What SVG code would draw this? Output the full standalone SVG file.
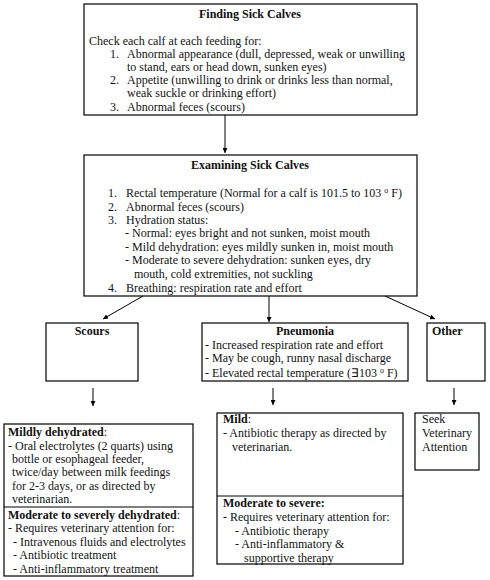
<svg xmlns="http://www.w3.org/2000/svg" width="490" height="580" viewBox="0 0 490 580">
<defs>
<marker id="ah" viewBox="0 0 10 10" refX="10" refY="5" markerWidth="5" markerHeight="5" orient="auto" markerUnits="userSpaceOnUse">
<path d="M0,0 L10,5 L0,10 z" fill="#000"/>
</marker>
<style>
text{font-family:"Liberation Serif","Times New Roman",serif;font-size:12px;fill:#111}
.b{font-weight:bold}
.box{fill:#fff;stroke:#000;stroke-width:1.2}
.ln{stroke:#000;stroke-width:1;fill:none}
</style>
</defs>
<rect width="490" height="580" fill="#fff"/>
<g id="finding">
<rect class="box" x="84" y="4" width="333" height="111"/>
<text class="b" x="250" y="18" text-anchor="middle">Finding Sick Calves</text>
<text x="89" y="45">Check each calf at each feeding for:</text>
<text x="110" y="58">1.</text><text x="127" y="58">Abnormal appearance (dull, depressed, weak or unwilling</text>
<text x="127" y="71">to stand, ears or head down, sunken eyes)</text>
<text x="110" y="84">2.</text><text x="127" y="84">Appetite (unwilling to drink or drinks less than normal,</text>
<text x="127" y="97">weak suckle or drinking effort)</text>
<text x="110" y="111">3.</text><text x="127" y="111">Abnormal feces (scours)</text>
</g>
<g id="examining">
<rect class="box" x="84" y="155" width="333" height="141"/>
<text class="b" x="250" y="169" text-anchor="middle">Examining Sick Calves</text>
<text x="108" y="197">1.</text><text x="126" y="197">Rectal temperature (Normal for a calf is 101.5 to 103 <tspan font-size="8" dy="-4">o</tspan><tspan dy="4"> F)</tspan></text>
<text x="108" y="211">2.</text><text x="126" y="211">Abnormal feces (scours)</text>
<text x="108" y="224">3.</text><text x="126" y="224">Hydration status:</text>
<text x="125" y="237">- Normal: eyes bright and not sunken, moist mouth</text>
<text x="125" y="251">- Mild dehydration: eyes mildly sunken in, moist mouth</text>
<text x="125" y="264">- Moderate to severe dehydration: sunken eyes, dry</text>
<text x="134" y="278">mouth, cold extremities, not suckling</text>
<text x="108" y="292">4.</text><text x="126" y="292">Breathing: respiration rate and effort</text>
</g>
<g id="scours">
<rect class="box" x="46" y="323" width="92" height="58"/>
<text class="b" x="92" y="335" text-anchor="middle">Scours</text>
</g>
<g id="pneumonia">
<rect class="box" x="202" y="323" width="206" height="58"/>
<text class="b" x="305" y="335" text-anchor="middle">Pneumonia</text>
<text x="205" y="349">- Increased respiration rate and effort</text>
<text x="205" y="362">- May be cough, runny nasal discharge</text>
<text x="205" y="377">- Elevated rectal temperature (∃103 <tspan font-size="8" dy="-4">o</tspan><tspan dy="4"> F)</tspan></text>
</g>
<g id="other">
<rect class="box" x="427" y="323" width="58" height="58"/>
<text class="b" x="432" y="335">Other</text>
</g>
<g id="scours-treat">
<rect class="box" x="4" y="424" width="189" height="152"/>
<line class="ln" x1="4" y1="507" x2="193" y2="507"/>
<text x="8" y="436"><tspan class="b">Mildly dehydrated</tspan>:</text>
<text x="8" y="450">- Oral electrolytes (2 quarts) using</text>
<text x="12" y="463">bottle or esophageal feeder,</text>
<text x="12" y="476">twice/day between milk feedings</text>
<text x="12" y="490">for 2-3 days, or as directed by</text>
<text x="12" y="503">veterinarian.</text>
<text x="8" y="519"><tspan class="b">Moderate to severely dehydrated</tspan>:</text>
<text x="8" y="532">- Requires veterinary attention for:</text>
<text x="13" y="546">- Intravenous fluids and electrolytes</text>
<text x="13" y="559">- Antibiotic treatment</text>
<text x="13" y="573">- Anti-inflammatory treatment</text>
</g>
<g id="pneumonia-treat">
<rect class="box" x="217" y="413" width="186" height="151"/>
<line class="ln" x1="217" y1="496" x2="403" y2="496"/>
<text x="223" y="423"><tspan class="b">Mild</tspan>:</text>
<text x="223" y="437">- Antibiotic therapy as directed by</text>
<text x="232" y="451">veterinarian.</text>
<text class="b" x="223" y="507">Moderate to severe:</text>
<text x="223" y="521">- Requires veterinary attention for:</text>
<text x="235" y="535">- Antibiotic therapy</text>
<text x="235" y="548">- Anti-inflammatory &amp;</text>
<text x="244" y="562">supportive therapy</text>
</g>
<g id="other-treat">
<rect class="box" x="415" y="413" width="64" height="57"/>
<text x="422" y="423">Seek</text>
<text x="422" y="437">Veterinary</text>
<text x="422" y="451">Attention</text>
</g>
<g id="connectors">
<line class="ln" x1="225" y1="115" x2="225" y2="153" marker-end="url(#ah)"/>
<line class="ln" x1="143" y1="296" x2="103" y2="319" marker-end="url(#ah)"/>
<line class="ln" x1="269" y1="296" x2="269" y2="322" marker-end="url(#ah)"/>
<line class="ln" x1="385" y1="296" x2="435" y2="319" marker-end="url(#ah)"/>
<line class="ln" x1="93" y1="388" x2="93" y2="406" marker-end="url(#ah)"/>
<line class="ln" x1="273" y1="388" x2="273" y2="405" marker-end="url(#ah)"/>
<line class="ln" x1="454" y1="388" x2="454" y2="405" marker-end="url(#ah)"/>
</g>
</svg>
